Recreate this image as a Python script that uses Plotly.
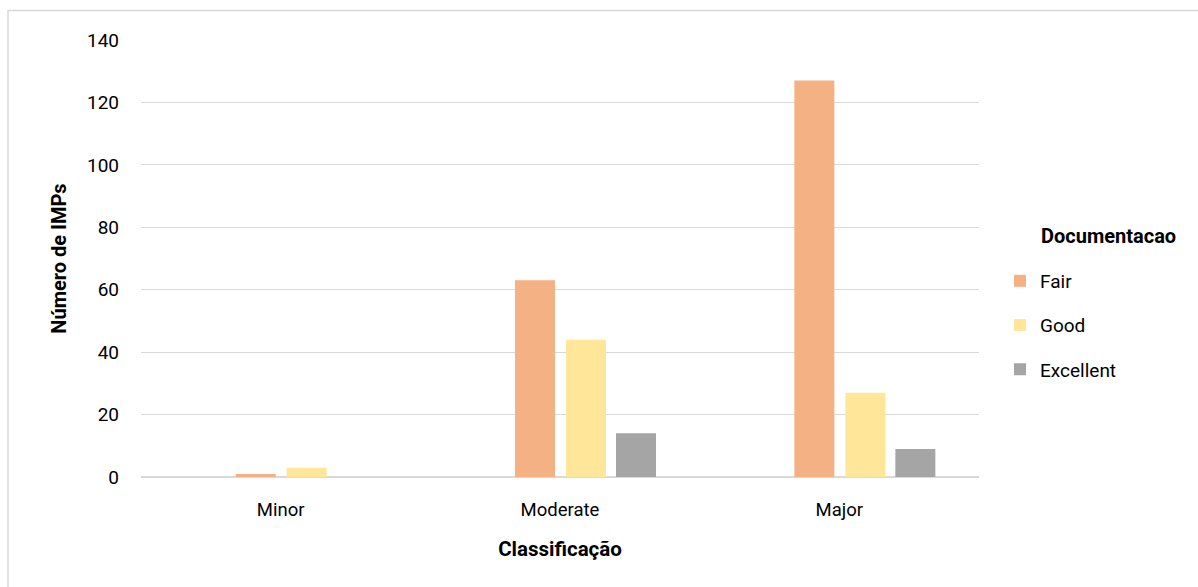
import plotly.graph_objects as go

categories = ["Minor", "Moderate", "Major"]
fair = [1, 63, 127]
good = [3, 44, 27]
excellent = [0, 14, 9]
series_names = ["Fair", "Good", "Excellent"]
colors = ["#F4B183", "#FFE699", "#A5A5A5"]

FONT = "Roboto"
fig = go.Figure()
offsets = [-0.161, 0.0215, 0.2005]
for name, vals, col, off in zip(series_names, [fair, good, excellent], colors, offsets):
    fig.add_trace(go.Bar(
        x=categories, y=vals, name=name, marker=dict(color=col, line=dict(width=0)),
        offset=off, width=0.1432, legendgroup=name,
    ))

L, R, T, B = 141, 219, 40, 110
W, H = 1198, 587
pw, ph = W - L - R, H - T - B

fig.update_layout(
    width=W, height=H,
    margin=dict(l=L, r=R, t=T, b=B),
    paper_bgcolor="white", plot_bgcolor="white",
    barmode="overlay",
    font=dict(family=FONT, size=19, color="#000000"),
    showlegend=True,
    legend=dict(
        x=(1000 - L) / pw, xanchor="left", y=(477 - 262) / ph, yanchor="top",
        font=dict(family=FONT, size=19, color="#000000"),
        traceorder="grouped", tracegroupgap=16.5,
        bgcolor="rgba(0,0,0,0)",
    ),
    xaxis=dict(
        showgrid=False, showline=False, ticks="", ticklabelstandoff=19,
        tickfont=dict(size=18.5),
        title=dict(text="<b>Classificação</b>", font=dict(size=20.5), standoff=22),
    ),
    yaxis=dict(
        range=[0, 140], dtick=20, showgrid=True, gridcolor="#D9D9D9", gridwidth=1,
        zeroline=True, zerolinecolor="#D9D9D9", zerolinewidth=1.5,
        showline=False, ticks="", ticklabelstandoff=21,
        tickfont=dict(size=19),
        title=dict(text="<b>Número de IMPs</b>", font=dict(size=20), standoff=14),
    ),
    annotations=[dict(
        text="<b>Documentacao</b>", xref="paper", yref="paper",
        x=(1039 - L) / pw, y=(477 - 236) / ph, xanchor="left", yanchor="middle",
        showarrow=False, font=dict(family=FONT, size=20, color="#000000"),
    )],
    shapes=[dict(
        type="rect", xref="paper", yref="paper",
        x0=(8 - L) / pw, x1=(1205 - L) / pw,
        y0=(477 - 595) / ph, y1=(477 - 10.5) / ph,
        line=dict(color="#D9D9D9", width=1.5), fillcolor="rgba(0,0,0,0)", layer="below",
    )],
)

fig.write_html("out.html")
